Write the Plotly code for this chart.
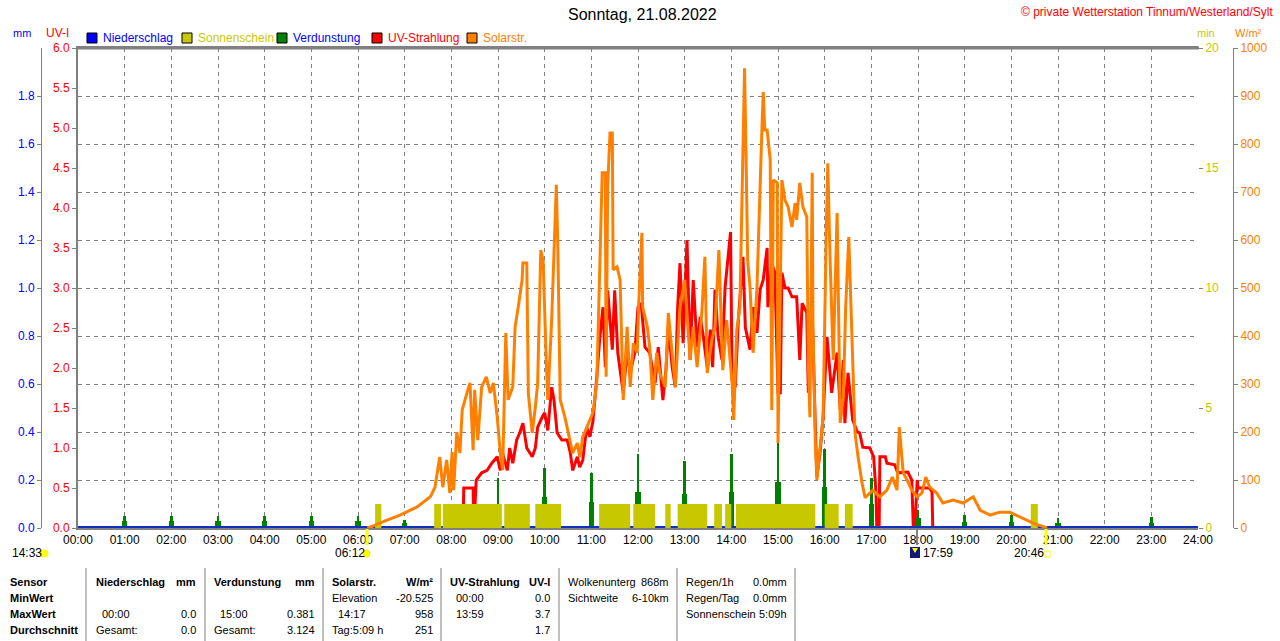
import plotly.graph_objects as go

# Tagesdaten 21.08.2022
solar_t = ["06:12","06:19","06:35","06:54","07:16","07:33","07:39","07:45","07:49","07:54",
           "07:58","08:01","08:03","08:07","08:11","08:14","08:20","08:24","08:28","08:30",
           "08:34","08:39","08:45","08:50","08:54","08:59","09:03","09:06","09:10","09:13",
           "09:19","09:22","09:26","09:31","09:32","09:37","09:39","09:44","09:48","09:51",
           "09:55","09:58","10:02","10:04","10:09","10:15","10:17","10:20","10:26","10:33",
           "10:36","10:42","10:45","10:49","10:54","11:02","11:07","11:11","11:14","11:18",
           "11:19","11:21","11:24","11:27","11:28","11:33","11:37","11:41","11:46","11:50",
           "11:54","11:59","12:01","12:05","12:06","12:12","12:15","12:19","12:24","12:28",
           "12:35","12:39","12:44","12:48","12:54","13:00","13:07","13:11","13:16","13:22",
           "13:26","13:29","13:35","13:39","13:44","13:48","13:49","13:54","14:01","14:03",
           "14:07","14:11","14:14","14:17","14:19","14:21","14:24","14:28","14:33","14:37",
           "14:39","14:41","14:43","14:46","14:50","14:52","14:54","14:59","15:00","15:05",
           "15:09","15:13","15:18","15:22","15:24","15:28","15:32","15:37","15:39","15:41",
           "15:44","15:45","15:48","15:50","15:54","15:58","16:02","16:04","16:07","16:11",
           "16:16","16:20","16:24","16:27","16:31","16:35","16:39","16:43","16:48","16:52",
           "17:02","17:11","17:20","17:27","17:33","17:36","17:39","17:41","17:46","17:52",
           "17:59","18:05","18:10","18:15","18:24","18:32","18:45","18:58","19:11","19:20",
           "19:33","19:45","19:58","20:11","20:28","20:43","20:46"]
solar = [0, 4, 15, 27, 44, 65, 85, 148, 85, 142,
         73, 158, 79, 200, 156, 246, 281, 302, 162, 288,
         183, 294, 315, 281, 302, 231, 156, 121, 406, 267,
         294, 419, 460, 517, 552, 552, 281, 198, 252, 302,
         579, 558, 350, 267, 433, 715, 579, 267, 231, 183,
         156, 177, 148, 190, 210, 240, 302, 523, 740, 740,
         315, 710, 823, 823, 538, 544, 517, 267, 419, 294,
         385, 365, 469, 615, 460, 419, 377, 267, 365, 323,
         294, 448, 365, 294, 460, 517, 350, 419, 335, 448,
         565, 323, 392, 419, 579, 365, 329, 433, 302, 225,
         413, 460, 725, 958, 767, 558, 502, 365, 502, 683,
         815, 908, 829, 829, 767, 246, 725, 719, 177, 725,
         683, 669, 627, 677, 642, 719, 669, 648, 350, 231,
         740, 419, 177, 100, 169, 231, 615, 760, 558, 350,
         656, 219, 273, 460, 606, 419, 198, 148, 94, 63,
         79, 65, 79, 106, 79, 210, 142, 115, 100, 79,
         65, 73, 106, 85, 73, 52, 58, 52, 65, 37,
         27, 33, 33, 23, 10, 2, 0]

uv_t = ["00:00","08:15","08:16","08:28","08:29","08:32","08:39","08:46","08:52","08:59",
        "09:03","09:06","09:12","09:15","09:19","09:24","09:28","09:32","09:37","09:44",
        "09:48","09:51","09:57","10:00","10:04","10:09","10:12","10:16","10:22","10:29",
        "10:33","10:36","10:42","10:45","10:49","10:54","10:58","11:02","11:07","11:11",
        "11:15","11:18","11:21","11:27","11:30","11:34","11:41","11:46","11:50","11:56",
        "12:00","12:04","12:09","12:15","12:22","12:26","12:32","12:36","12:39","12:44",
        "12:48","12:51","12:54","12:58","13:03","13:07","13:11","13:16","13:20","13:24",
        "13:29","13:33","13:36","13:39","13:43","13:48","13:52","13:59","14:01","14:05",
        "14:09","14:15","14:18","14:24","14:28","14:33","14:37","14:41","14:46","14:47",
        "14:52","14:56","15:00","15:03","15:05","15:09","15:13","15:18","15:24","15:28",
        "15:31","15:37","15:39","15:44","15:48","15:50","15:54","15:58","16:03","16:09",
        "16:16","16:20","16:24","16:26","16:30","16:36","16:42","16:45","16:49","16:58",
        "17:03","17:06","17:07","17:10","17:11","17:18","17:20","17:30","17:34","17:47",
        "17:52","17:54","17:56","17:59","18:00","18:15","18:18","18:19","24:00"]
uv = [0, 0, 0.5, 0.5, 0, 0.6, 0.69, 0.72, 0.81, 0.89,
      0.72, 0.93, 0.72, 1.0, 0.81, 1.1, 1.19, 1.31, 1.0, 0.89,
      1.0, 1.26, 1.39, 1.44, 1.22, 1.76, 1.6, 1.19, 1.1, 1.1,
      0.94, 0.72, 0.89, 0.76, 0.85, 1.26, 1.14, 1.33, 1.89, 2.39,
      2.76, 2.01, 2.97, 2.23, 2.97, 2.19, 1.69, 2.2, 1.94, 2.2,
      2.76, 2.81, 2.26, 2.19, 1.81, 2.26, 1.6, 1.98, 2.51, 2.01,
      1.76, 2.76, 3.31, 2.31, 3.6, 2.1, 3.1, 2.26, 2.64, 2.39,
      2.01, 2.48, 2.01, 2.98, 2.39, 2.1, 3.01, 3.7, 1.85, 1.76,
      2.6, 3.39, 2.51, 2.23, 2.76, 2.44, 2.98, 3.1, 3.5, 2.76,
      3.31, 3.19, 1.69, 1.69, 3.19, 3.0, 3.0, 2.89, 2.89, 2.1,
      2.81, 2.69, 1.69, 2.69, 1.26, 0.64, 0.94, 1.39, 2.39, 1.69,
      2.19, 1.48, 2.1, 1.31, 1.94, 1.35, 1.2, 1.19, 1.01, 1.0,
      0.89, 0.44, 0, 0, 0.89, 0.89, 0.81, 0.79, 0.69, 0.7,
      0.6, 0, 0, 0.6, 0.5, 0.5, 0.45, 0, 0]

# Sonnenschein: Abschnitte mit 1 min Sonne pro Minute
sun_start = ["06:22","07:38","07:49","09:08","09:48","11:10","11:54","12:35","12:51","13:38",
             "13:52","14:06","16:00","16:26","20:25"]
sun_end = ["06:30","07:47","09:05","09:41","10:21","11:50","12:22","12:42","13:29","13:48",
           "14:00","15:48","16:18","16:36","20:34"]
sun_min = 1

# Verdunstung (mm) je Stunde, Hauptwert und Nebenwert
evap_t = ["01:00","02:00","03:00","04:00","05:00","06:00","07:00","08:00","09:00","10:00","11:00",
          "12:00","13:00","14:00","15:00","16:00","17:00","18:00","19:00","20:00","21:00","23:00"]
evap_main = [0.05, 0.05, 0.05, 0.05, 0.05, 0.05, 0.033, 0.079, 0.21, 0.25, 0.23,
             0.31, 0.28, 0.31, 0.381, 0.33, 0.21, 0.075, 0.054, 0.054, 0.04, 0.045]
evap_side = [0.03, 0.03, 0.03, 0.03, 0.03, 0.03, 0.02, 0.04, 0.1, 0.13, 0.11,
             0.15, 0.14, 0.15, 0.19, 0.17, 0.1, 0.04, 0.025, 0.025, 0.02, 0.02]

# Niederschlag
rain_t = ["00:00", "24:00"]
rain = [0.0, 0.0]

hour_labels = ["%02d:00" % h for h in range(25)]

BLUE = "#0000FF"
OLIVE = "#C8C800"
GREEN = "#008000"
RED = "#FF0000"
ORANGE = "#FF8000"
GRAY = "#808080"
SUN = "#FFFF00"
FONT = "Liberation Sans"


def hrs(s):
    h, m = s.split(":")
    return int(h) + int(m) / 60.0


# Pixel -> Papierkoordinaten (Plotfläche x 78..1198, y 48..528)
def px(x):
    return x / 1280.0


def py(y):
    return (528 - y) / 480.0


sx, sy = [], []
for a, b in zip(sun_start, sun_end):
    sx += [hrs(a), hrs(a), hrs(b), hrs(b)]
    sy += [0, sun_min, sun_min, 0]

fig = go.Figure()
fig.add_trace(go.Scatter(x=sx, y=sy, yaxis="y3", mode="lines", line=dict(width=0, color=OLIVE),
                         fill="tozeroy", fillcolor=OLIVE, name="Sonnenschein"))
fig.add_trace(go.Scatter(x=[hrs(t) for t in solar_t], y=solar, yaxis="y4", mode="lines",
                         line=dict(color=ORANGE, width=3), name="Solarstr."))
fig.add_trace(go.Scatter(x=[hrs(t) for t in uv_t], y=uv, yaxis="y", mode="lines",
                         line=dict(color=RED, width=3), name="UV-Strahlung"))
fig.add_trace(go.Bar(x=[hrs(t) for t in evap_t], y=evap_side, yaxis="y2", width=0.11,
                     marker=dict(color=GREEN, line=dict(width=0)), name="Verdunstung"))
fig.add_trace(go.Bar(x=[hrs(t) for t in evap_t], y=evap_main, yaxis="y2", width=0.055,
                     marker=dict(color=GREEN, line=dict(width=0)), showlegend=False))
fig.add_trace(go.Scatter(x=[hrs(t) for t in rain_t], y=rain, yaxis="y2", mode="lines",
                         line=dict(color="#1030C0", width=4), name="Niederschlag"))

axis_common = dict(showgrid=False, zeroline=False, ticks="outside", ticklen=4, tickcolor=GRAY,
                   linecolor=GRAY, fixedrange=True, automargin=False)

fig.update_layout(
    width=1280, height=641,
    margin=dict(l=0, r=0, t=48, b=113, autoexpand=False),
    paper_bgcolor="white", plot_bgcolor="white",
    showlegend=False, barmode="overlay", bargap=0,
    font=dict(family=FONT, size=12, color="black"),
    xaxis=dict(domain=[px(78), px(1198)], range=[0, 24], tickvals=list(range(25)), ticktext=hour_labels,
               showgrid=True, gridcolor=GRAY, griddash="4px,4px", gridwidth=1, zeroline=False,
               ticks="", showline=True, mirror=True, linecolor=GRAY, linewidth=2, automargin=False,
               tickfont=dict(size=12, color="black"), fixedrange=True),
    yaxis=dict(range=[0, 6], tickvals=[i * 0.5 for i in range(13)],
               ticktext=["%.1f" % (i * 0.5) for i in range(13)], side="left",
               tickfont=dict(color=RED, size=12), showline=True, linewidth=2, **axis_common),
    yaxis2=dict(range=[0, 2], tickvals=[i * 0.2 for i in range(10)],
                ticktext=["%.1f" % (i * 0.2) for i in range(10)], overlaying="y", anchor="free",
                position=px(41), side="left", tickfont=dict(color=BLUE, size=12), showline=True,
                linewidth=1, **axis_common),
    yaxis3=dict(range=[0, 20], tickvals=[0, 5, 10, 15, 20], overlaying="y", anchor="x", side="right",
                tickfont=dict(color=OLIVE, size=12), showline=False, **axis_common),
    yaxis4=dict(range=[0, 1000], dtick=100, overlaying="y", anchor="free", position=px(1233),
                side="right", tickfont=dict(color=ORANGE, size=12), showline=True, linewidth=1,
                zeroline=False, ticks="outside", ticklen=4, tickcolor=GRAY, linecolor=GRAY,
                automargin=False, showgrid=True, gridcolor=GRAY, griddash="4px,4px", gridwidth=1,
                fixedrange=True),
)

shapes = []
ann = []


def note(x, y, text, color="black", size=12, bold=False, anchor="left"):
    if bold:
        text = "<b>" + text + "</b>"
    ann.append(dict(x=px(x), y=py(y), xref="paper", yref="paper", text=text, showarrow=False,
                    xanchor=anchor, yanchor="middle", font=dict(family=FONT, size=size, color=color)))


def box(x0, y0, x1, y1, fill, line_color=None, width=0):
    shapes.append(dict(type="rect", xref="paper", yref="paper", x0=px(x0), x1=px(x1), y0=py(y1), y1=py(y0),
                       fillcolor=fill, line=dict(color=line_color or fill, width=width)))


# oberer Rahmen dicker
shapes.append(dict(type="line", xref="paper", yref="paper", x0=px(77), x1=px(1199), y0=py(48), y1=py(48),
                   line=dict(color=GRAY, width=3)))

# Titel
ann.append(dict(x=px(642), y=py(15), xref="paper", yref="paper", text="Sonntag, 21.08.2022", showarrow=False,
                xanchor="center", yanchor="middle", font=dict(family=FONT, size=16, color="black")))
note(1276, 12, "© private Wetterstation Tinnum/Westerland/Sylt", RED, 12, anchor="right")

# Achsenbeschriftungen
note(22, 33, "mm", BLUE, 11, anchor="center")
note(57, 33, "UV-I", RED, 12, anchor="center")
note(1206, 33, "min", OLIVE, 11, anchor="center")
note(1248, 33, "W/m²", ORANGE, 11, anchor="center")

# Legende
legend_items = [("Niederschlag", BLUE, BLUE, 87), ("Sonnenschein", OLIVE, OLIVE, 182),
                ("Verdunstung", GREEN, BLUE, 277), ("UV-Strahlung", RED, RED, 372),
                ("Solarstr.", ORANGE, ORANGE, 467)]
for label, fill, txt, x0 in legend_items:
    box(x0, 33, x0 + 10, 43, fill, "black", 1)
    note(x0 + 14, 38, label, txt, 12)

# Sonnenauf-/untergang, Regen-Markierung
for x, c, w in [(367, SUN, 3), (1046, SUN, 3), (917, GRAY, 2)]:
    shapes.append(dict(type="line", xref="paper", yref="paper", x0=px(x), x1=px(x), y0=py(529), y1=py(545),
                       line=dict(color=c, width=w)))
note(10, 553, "14:33", size=12)
shapes.append(dict(type="circle", xref="paper", yref="paper", x0=px(40), x1=px(48), y0=py(557), y1=py(550),
                   fillcolor=SUN, line=dict(color=SUN, width=1)))
note(333, 553, "06:12", size=12)
shapes.append(dict(type="circle", xref="paper", yref="paper", x0=px(363), x1=px(370), y0=py(557), y1=py(550),
                   fillcolor=SUN, line=dict(color="#FFE000", width=1)))
note(921, 553, "17:59", size=12)
box(910, 547, 920, 558, "#101878")
shapes.append(dict(type="path", xref="paper", yref="paper",
                   path="M %f %f L %f %f L %f %f Z" % (px(912), py(548), px(918), py(548), px(915), py(553)),
                   fillcolor=SUN, line=dict(color=SUN, width=0)))
note(1012, 553, "20:46", size=12)
box(1044, 551, 1050, 557, "rgba(0,0,0,0)", SUN, 1)

# Tabelle
for x in [86, 205, 323, 441, 559, 677, 795]:
    shapes.append(dict(type="line", xref="paper", yref="paper", x0=px(x), x1=px(x), y0=py(568), y1=py(641),
                       line=dict(color=GRAY, width=1)))
rows = [582, 598, 614, 630]
note(8, rows[0], "Sensor", bold=True, size=11)
note(8, rows[1], "MinWert", bold=True, size=11)
note(8, rows[2], "MaxWert", bold=True, size=11)
note(8, rows[3], "Durchschnitt", bold=True, size=11)

note(94, rows[0], "Niederschlag", bold=True, size=11)
note(198, rows[0], "mm", bold=True, size=11, anchor="right")
note(100, rows[2], "00:00", size=11)
note(198, rows[2], "0.0", size=11, anchor="right")
note(94, rows[3], "Gesamt:", size=11)
note(198, rows[3], "0.0", size=11, anchor="right")

note(212, rows[0], "Verdunstung", bold=True, size=11)
note(317, rows[0], "mm", bold=True, size=11, anchor="right")
note(218, rows[2], "15:00", size=11)
note(317, rows[2], "0.381", size=11, anchor="right")
note(212, rows[3], "Gesamt:", size=11)
note(317, rows[3], "3.124", size=11, anchor="right")

note(330, rows[0], "Solarstr.", bold=True, size=11)
note(435, rows[0], "W/m²", bold=True, size=11, anchor="right")
note(330, rows[1], "Elevation", size=11)
note(435, rows[1], "-20.525", size=11, anchor="right")
note(336, rows[2], "14:17", size=11)
note(435, rows[2], "958", size=11, anchor="right")
note(330, rows[3], "Tag:5:09 h", size=11)
note(435, rows[3], "251", size=11, anchor="right")

note(448, rows[0], "UV-Strahlung", bold=True, size=11)
note(552, rows[0], "UV-I", bold=True, size=11, anchor="right")
note(454, rows[1], "00:00", size=11)
note(552, rows[1], "0.0", size=11, anchor="right")
note(454, rows[2], "13:59", size=11)
note(552, rows[2], "3.7", size=11, anchor="right")
note(552, rows[3], "1.7", size=11, anchor="right")

note(566, rows[0], "Wolkenunterg", size=11)
note(671, rows[0], "868m", size=11, anchor="right")
note(566, rows[1], "Sichtweite", size=11)
note(671, rows[1], "6-10km", size=11, anchor="right")

note(684, rows[0], "Regen/1h", size=11)
note(789, rows[0], "0.0mm", size=11, anchor="right")
note(684, rows[1], "Regen/Tag", size=11)
note(789, rows[1], "0.0mm", size=11, anchor="right")
note(684, rows[2], "Sonnenschein", size=11)
note(789, rows[2], "5:09h", size=11, anchor="right")

fig.update_layout(shapes=shapes, annotations=ann)

fig.write_html("out.html", config={"displayModeBar": False},
               post_script="document.body.style.margin='0';")
